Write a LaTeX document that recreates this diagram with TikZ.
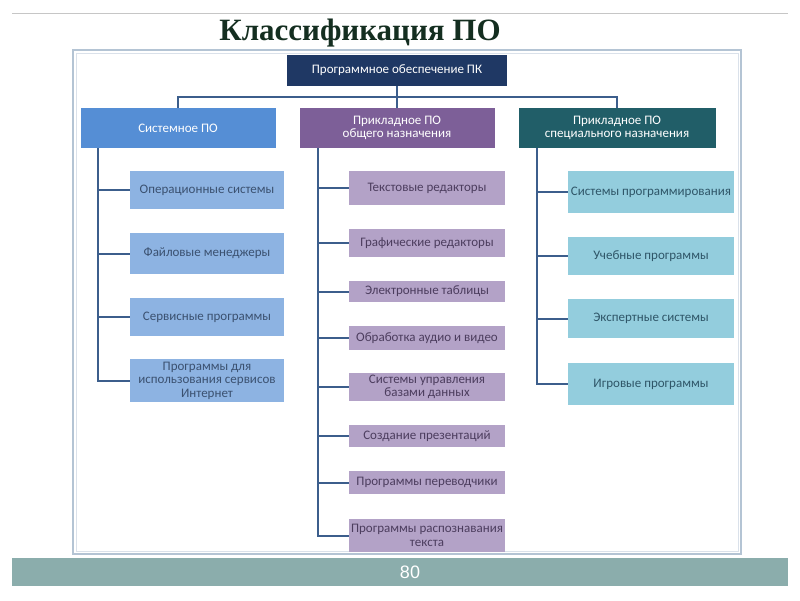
\documentclass[tikz,border=0pt]{standalone}
\usepackage{fontspec}
\setmainfont{Carlito}
\newfontfamily\titlefont{Liberation Serif}
\newfontfamily\numfont{Liberation Sans}
\definecolor{rootblue}{HTML}{1F3864}
\definecolor{sysblue}{HTML}{558ED5}
\definecolor{genpurple}{HTML}{7D5F98}
\definecolor{specteal}{HTML}{215E68}
\definecolor{syslight}{HTML}{8DB3E2}
\definecolor{genlight}{HTML}{B3A2C7}
\definecolor{speclight}{HTML}{93CDDD}
\definecolor{systext}{HTML}{3B5170}
\definecolor{gentext}{HTML}{4C3D5E}
\definecolor{spectext}{HTML}{2F5668}
\definecolor{linkblue}{HTML}{3C5E8C}
\definecolor{framegrey}{HTML}{B4C4D4}
\definecolor{barteal}{HTML}{8BADAC}
\definecolor{titlegreen}{HTML}{142E20}
\begin{document}
\begin{tikzpicture}[x=1pt,y=-1pt,
	  box/.style={rectangle,inner sep=1pt,align=center,font=\fontsize{13}{13.5}\selectfont},
	  top node/.style={box,fill=rootblue,text=white,minimum width=220pt,minimum height=31pt},
	  head node/.style={box,text=white,minimum width=195pt,minimum height=40pt},
	  sys node/.style={box,fill=syslight,text=systext,minimum width=154pt},
	  gen node/.style={box,fill=genlight,text=gentext,minimum width=156pt},
	  spec node/.style={box,fill=speclight,text=spectext,minimum width=166pt},
	  link/.style={draw=linkblue,line width=2pt}]

	  \useasboundingbox (0,0) rectangle (800,600);
	  \draw[gray!45,line width=1pt] (12,13) -- (788,13);
	  \node[font=\titlefont\bfseries\fontsize{31}{33}\selectfont,text=titlegreen] (title) at (360,33) {Классификация ПО};
	  \draw[framegrey,line width=2pt,fill=white] (73,50) rectangle (741,554);
	  \draw[framegrey!50,line width=0.6pt] (76,53) rectangle (738,551);

	  \node[top node] (root) at (397,70.5) {Программное обеспечение ПК};
	  \node[head node,fill=sysblue] (sys) at (178,128) {Системное ПО};
	  \node[head node,fill=genpurple] (gen) at (397,128) {Прикладное ПО\\общего назначения};
	  \node[head node,fill=specteal,minimum width=197pt] (spec) at (617,128) {Прикладное ПО\\специального назначения};
	  \coordinate (bus) at (397,97);

	  % system software
	  \node[sys node,minimum height=38pt] (os) at (207,190) {Операционные системы};
	  \node[sys node,minimum height=41pt] (fm) at (207,253.5) {Файловые менеджеры};
	  \node[sys node,minimum height=38pt] (serv) at (207,317) {Сервисные программы};
	  \node[sys node,minimum height=43pt] (inet) at (207,380.5) {Программы для\\использования сервисов\\Интернет};

	  % general purpose
	  \node[gen node,minimum height=34pt] (txt) at (427,188) {Текстовые редакторы};
	  \node[gen node,minimum height=28pt] (gfx) at (427,243) {Графические редакторы};
	  \node[gen node,minimum height=21pt] (tab) at (427,291.5) {Электронные таблицы};
	  \node[gen node,minimum height=24pt] (av) at (427,338) {Обработка аудио и видео};
	  \node[gen node,minimum height=28pt] (db) at (427,387) {Системы управления\\базами данных};
	  \node[gen node,minimum height=22pt] (pres) at (427,436) {Создание презентаций};
	  \node[gen node,minimum height=23pt] (trans) at (427,482.5) {Программы переводчики};
	  \node[gen node,minimum height=33pt] (ocr) at (427,535.5) {Программы распознавания\\текста};

	  % special purpose
	  \node[spec node,minimum height=42pt] (prog) at (651,192) {Системы программирования};
	  \node[spec node,minimum height=38pt] (edu) at (651,256) {Учебные программы};
	  \node[spec node,minimum height=39pt] (exp) at (651,318.5) {Экспертные системы};
	  \node[spec node,minimum height=42pt] (game) at (651,384) {Игровые программы};

	  \draw[link] (root) -- (bus);
	  \draw[link] (sys.north) |- (bus) -| (spec.north);
	  \draw[link] (bus) -- (gen.north);
	  \foreach \c in {os,fm,serv,inet}
	    \draw[link] ([xshift=18pt]sys.south west) |- (\c.west);
	  \foreach \c in {txt,gfx,tab,av,db,pres,trans,ocr}
	    \draw[link] ([xshift=19pt]gen.south west) |- (\c.west);
	  \foreach \c in {prog,edu,exp,game}
	    \draw[link] ([xshift=19pt]spec.south west) |- (\c.west);

	  \fill[barteal] (12,558) rectangle (788,586);
	  \node[font=\numfont\fontsize{18}{20}\selectfont,text=white] (page) at (410,572) {80};

	\end{tikzpicture}
\end{document}
